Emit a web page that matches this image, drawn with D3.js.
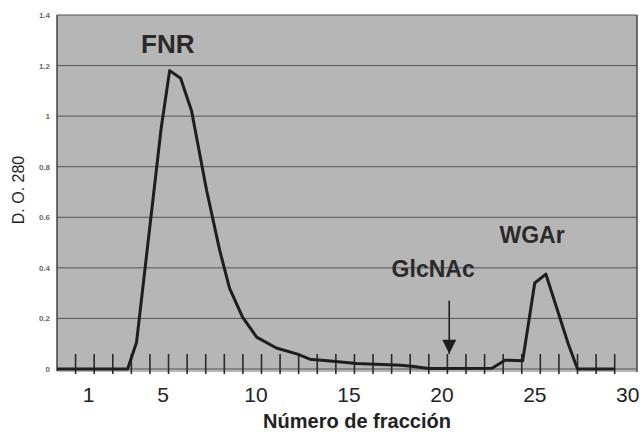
<!DOCTYPE html>
<html>
<head>
<meta charset="utf-8">
<script src="https://cdn.jsdelivr.net/npm/d3@7"></script>
<style>
  body { margin: 0; background: #fff; }
  svg { display: block; font-family: "Liberation Sans", Arial, sans-serif; }
</style>
</head>
<body>
<div id="chart"></div>
<script>
// fraction position (tick k = fraction k) and absorbance at 280 nm
var fraction = [-1, 2.8, 3.28, 4.6, 5.06, 5.65, 6.24, 7.05, 7.75, 8.28, 8.98, 9.74, 10.8, 11.94, 12.6, 14.0, 15.1, 17.5, 18.2, 19.0, 22.4, 23.1, 24.05, 24.7, 25.3, 26.5, 27.0, 29.0];
var absorb   = [0, 0, 0.106, 0.95, 1.18, 1.15, 1.02, 0.706, 0.47, 0.32, 0.205, 0.126, 0.083, 0.059, 0.039, 0.03, 0.022, 0.015, 0.01, 0.002, 0.003, 0.035, 0.033, 0.34, 0.375, 0.10, 0, 0];

var yTicks = [0, 0.2, 0.4, 0.6, 0.8, 1, 1.2, 1.4];
var xLabels = [1, 5, 10, 15, 20, 25, 30];
var tickMarks = d3.range(0, 30);

var labels = [
  { text: "FNR", f: 3.52, v: 1.248, size: 26 },
  { text: "GlcNAc", f: 17.0, v: 0.364, size: 23 },
  { text: "WGAr", f: 22.8, v: 0.5, size: 23 }
];
var arrowAt = { f: 20.1, top: 0.27, tip: 0.06 };

var width = 640, height = 432;
var svg = d3.select("#chart").append("svg")
  .attr("width", width)
  .attr("height", height);

var x = d3.scaleLinear().domain([-1, 30.2]).range([57, 637]);
var y = d3.scaleLinear().domain([0, 1.4]).range([369, 15]);

// plot background
svg.append("rect")
  .attr("x", x(-1)).attr("y", y(1.4))
  .attr("width", x(30.2) - x(-1)).attr("height", y(0) - y(1.4) + 3)
  .attr("fill", "#b6b6b6");

// gridlines
svg.append("g")
  .selectAll("line")
  .data(yTicks.slice(1))
  .enter().append("line")
  .attr("x1", x(-1)).attr("x2", x(30.2))
  .attr("y1", d => y(d)).attr("y2", d => y(d))
  .attr("stroke", "#555").attr("stroke-width", 1);

// frame
svg.append("line").attr("x1", x(-1)).attr("x2", x(-1)).attr("y1", y(1.4)).attr("y2", y(0) + 2)
  .attr("stroke", "#444").attr("stroke-width", 1.5);
svg.append("line").attr("x1", x(30.2)).attr("x2", x(30.2)).attr("y1", y(1.4)).attr("y2", y(0) + 3)
  .attr("stroke", "#444").attr("stroke-width", 1.5);
svg.append("line").attr("x1", x(-1)).attr("x2", x(30.2)).attr("y1", y(0)).attr("y2", y(0))
  .attr("stroke", "#555").attr("stroke-width", 1.2);

// y axis labels
var yAxis = svg.append("g")
  .attr("transform", "translate(" + (x(-1) - 4) + ",0)")
  .call(d3.axisLeft(y).tickValues(yTicks).tickSize(0)
    .tickFormat(d => (d === 0 || d === 1) ? String(d) : d.toFixed(1)));
yAxis.select(".domain").remove();
yAxis.selectAll("text")
  .attr("font-size", 8)
  .attr("font-family", "Liberation Sans, Arial, sans-serif")
  .attr("fill", "#666")
  .attr("font-weight", "bold");

// tick marks crossing the baseline
svg.append("g")
  .selectAll("line")
  .data(tickMarks)
  .enter().append("line")
  .attr("x1", d => x(d)).attr("x2", d => x(d))
  .attr("y1", y(0) - 15).attr("y2", y(0) + 5)
  .attr("stroke", "#2a2a2a").attr("stroke-width", 1.6);

// x axis labels
var xAxis = svg.append("g")
  .attr("transform", "translate(-6," + y(0) + ")")
  .call(d3.axisBottom(x).tickValues(xLabels).tickSize(0).tickPadding(18));
xAxis.select(".domain").remove();
xAxis.selectAll("text")
  .attr("font-size", 21)
  .attr("font-family", "Liberation Sans, Arial, sans-serif")
  .attr("fill", "#222");

// data line
var line = d3.line()
  .x((d, i) => x(fraction[i]))
  .y(d => y(d));
svg.append("path")
  .datum(absorb)
  .attr("d", line)
  .attr("fill", "none")
  .attr("stroke", "#1e1e1e")
  .attr("stroke-width", 3)
  .attr("stroke-linejoin", "round");

// GlcNAc arrow
svg.append("line")
  .attr("x1", x(arrowAt.f)).attr("x2", x(arrowAt.f))
  .attr("y1", y(arrowAt.top)).attr("y2", y(arrowAt.tip))
  .attr("stroke", "#1e1e1e").attr("stroke-width", 1.6);
var ax = x(arrowAt.f), ay = y(arrowAt.tip);
svg.append("path")
  .attr("d", "M" + (ax - 7) + "," + (ay - 14) + "L" + (ax + 7) + "," + (ay - 14) + "L" + ax + "," + ay + "Z")
  .attr("fill", "#1e1e1e");

// peak labels
svg.append("g")
  .selectAll("text")
  .data(labels)
  .enter().append("text")
  .attr("x", d => x(d.f)).attr("y", d => y(d.v))
  .attr("font-size", d => d.size)
  .attr("font-weight", "bold")
  .attr("fill", "#2a2a2a")
  .text(d => d.text);

// axis titles
svg.append("text")
  .attr("x", 357).attr("y", 428)
  .attr("text-anchor", "middle")
  .attr("font-size", 20)
  .attr("font-weight", "bold")
  .attr("fill", "#222")
  .text("Número de fracción");

svg.append("text")
  .attr("transform", "translate(24,190) rotate(-90)")
  .attr("text-anchor", "middle")
  .attr("font-size", 16)
  .attr("fill", "#222")
  .text("D. O. 280");
</script>
</body>
</html>
